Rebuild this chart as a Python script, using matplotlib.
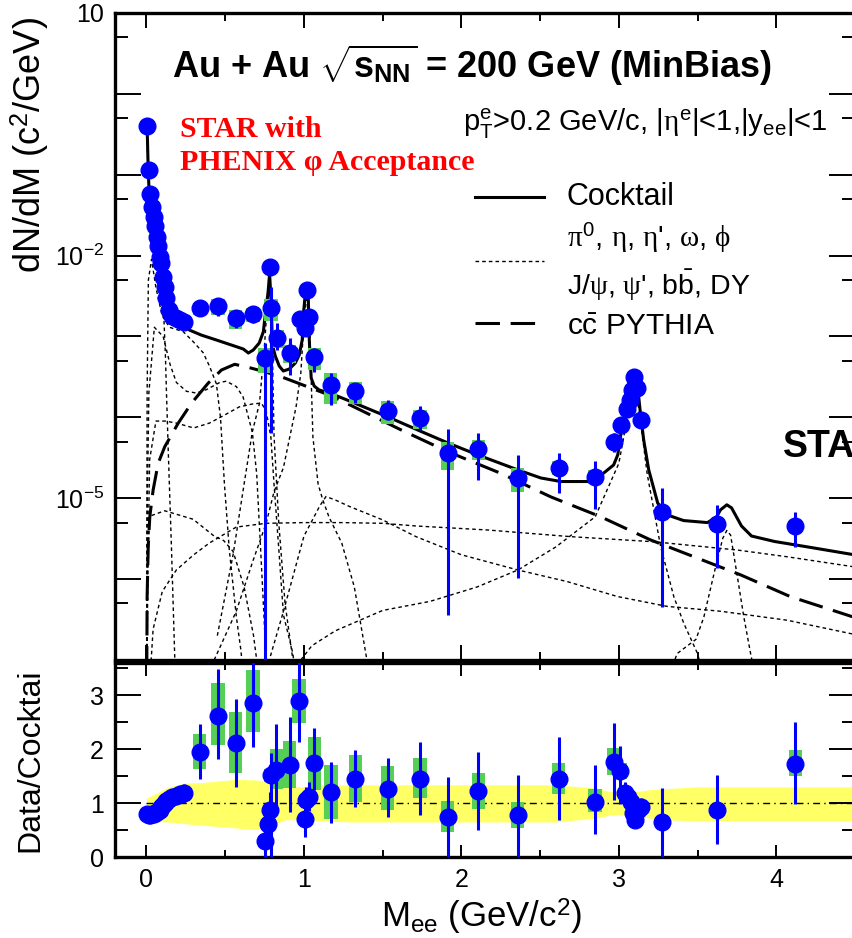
import matplotlib
matplotlib.use("Agg")
import matplotlib.pyplot as plt
from matplotlib.patches import Rectangle
from matplotlib.ticker import FixedLocator, FixedFormatter, NullFormatter

plt.rcParams.update({
    'font.family': ['Liberation Sans', 'DejaVu Sans'],
    'mathtext.fontset': 'custom',
    'mathtext.rm': 'Liberation Sans',
    'mathtext.it': 'Liberation Serif',
    'mathtext.bf': 'Liberation Sans:bold',
    'mathtext.sf': 'Liberation Sans',
})

# ---------------- measured dN/dM (upper panel) ----------------
mass = [0.005, 0.015, 0.025, 0.035, 0.045, 0.055, 0.065, 0.075, 0.085, 0.095, 0.105, 0.115, 0.125,
        0.14, 0.16, 0.19, 0.215, 0.24,
        0.338, 0.455, 0.566, 0.677, 0.75, 0.782, 0.79, 0.83, 0.909,
        0.978, 1.004, 1.019, 1.035, 1.067, 1.169, 1.327, 1.532, 1.737,
        1.913, 2.107, 2.357, 2.617, 2.849,
        2.97, 3.016, 3.05, 3.071, 3.086, 3.097, 3.118, 3.139, 3.276, 3.621, 4.122]
dndm = [0.40, 0.115, 0.057, 0.040, 0.030, 0.023, 0.017, 0.013, 0.0097, 0.0080, 0.0055, 0.0041, 0.0030,
        0.0021, 0.0018, 0.00168, 0.0016, 0.00152,
        0.00223, 0.00238, 0.00168, 0.00188, 5.4e-4, 0.0073, 0.00223, 9.7e-4, 6.3e-4,
        0.00163, 0.00126, 0.00376, 0.00173, 5.5e-4, 2.5e-4, 2.1e-4, 1.21e-4, 9.8e-5,
        3.6e-5, 4.1e-5, 1.77e-5, 2.4e-5, 1.85e-5,
        4.9e-5, 8.1e-5, 1.26e-4, 1.64e-4, 2.2e-4, 3.2e-4, 2.3e-4, 9.3e-5, 6.8e-6, 4.8e-6, 4.5e-6]
dndm_lo = [0.38, 0.108, 0.053, 0.037, 0.028, 0.021, 0.0158, 0.0121, 0.0090, 0.0074, 0.0050, 0.0037, 0.0027,
           0.0019, 0.0016, 0.00150, 0.00140, 0.00130,
           0.00179, 0.0018, 0.00126, 0.00148, 1e-9, 0.0066, 6.4e-5, 6.8e-4, 3.3e-4,
           0.00145, 0.00110, 0.0034, 0.00152, 3.6e-4, 1.42e-4, 1.51e-4, 9.3e-5, 7.0e-5,
           3.6e-7, 1.68e-5, 1.03e-6, 1.16e-5, 7.4e-6,
           3.7e-5, 6.8e-5, 1.1e-4, 1.45e-4, 1.95e-4, 2.9e-4, 2.05e-4, 7.8e-5, 4.5e-7, 1.37e-6, 2.5e-6]
dndm_hi = [0.42, 0.122, 0.061, 0.043, 0.032, 0.025, 0.0182, 0.0139, 0.0104, 0.0086, 0.0060, 0.0045, 0.0033,
           0.0023, 0.0020, 0.00186, 0.00180, 0.00175,
           0.00282, 0.0029, 0.00213, 0.00238, 8.3e-4, 0.0080, 0.00409, 0.00147, 9.6e-4,
           0.00181, 0.00142, 0.0041, 0.00194, 7.2e-4, 3.54e-4, 2.66e-4, 1.64e-4, 1.38e-4,
           7.2e-5, 6.4e-5, 3.4e-5, 3.6e-5, 2.9e-5,
           6.5e-5, 9.5e-5, 1.42e-4, 1.83e-4, 2.45e-4, 3.5e-4, 2.55e-4, 1.08e-4, 1.34e-5, 8.3e-6, 6.8e-6]
dndm_sys = [0.08, 0.08, 0.08, 0.08, 0.08, 0.08, 0.08, 0.08, 0.08, 0.08, 0.08, 0.08, 0.08,
            0.08, 0.08, 0.08, 0.08, 0.08,
            0.17, 0.23, 0.27, 0.20, 0.35, 0.10, 0.30, 0.25, 0.25,
            0.15, 0.15, 0.10, 0.15, 0.30, 0.42, 0.30, 0.32, 0.26,
            0.38, 0.27, 0.32, 0.20, 0.20,
            0.15, 0.10, 0.10, 0.10, 0.10, 0.10, 0.10, 0.10, 0.10, 0.10, 0.15]

# ---------------- cocktail ----------------
cocktail_m = [0.003, 0.011, 0.019, 0.032, 0.051, 0.070, 0.089, 0.108, 0.127, 0.159, 0.209, 0.273, 0.349,
              0.444, 0.539, 0.615, 0.647, 0.678, 0.716, 0.742, 0.758, 0.772, 0.782, 0.792, 0.800, 0.818,
              0.843, 0.869, 0.907, 0.945, 0.970, 0.989, 0.999, 1.008, 1.019, 1.028, 1.034, 1.046, 1.065,
              1.097, 1.173, 1.319, 1.535, 1.744, 1.915, 2.105, 2.359, 2.505, 2.632, 2.803, 2.904, 2.967,
              2.993, 3.012, 3.044, 3.075, 3.097, 3.123, 3.135, 3.158, 3.190, 3.247, 3.310, 3.411, 3.563,
              3.620, 3.646, 3.686, 3.716, 3.779, 3.843, 3.989, 4.205, 4.502]
cocktail_y = [0.475, 0.115, 0.0488, 0.0318, 0.0196, 0.01315, 0.00834, 0.00433, 0.00283, 0.00201, 0.0016,
              0.0012, 0.00104, 9.05e-4, 7.85e-4, 7.0e-4, 6.25e-4, 6.8e-4, 8.3e-4, 1.14e-3, 2.13e-3, 3.5e-3,
              6.0e-3, 2.5e-3, 7.85e-4, 5.74e-4, 4.32e-4, 3.74e-4, 3.96e-4, 4.7e-4, 5.9e-4, 9.05e-4, 2.13e-3,
              3.26e-3, 3.55e-3, 2.83e-3, 9.05e-4, 3.07e-4, 2.44e-4, 2.18e-4, 1.97e-4, 1.51e-4, 1.01e-4,
              6.7e-5, 4.82e-5, 3.43e-5, 2.24e-5, 1.78e-5, 1.61e-5, 1.61e-5, 2.05e-5, 2.58e-5, 3.43e-5,
              6.05e-5, 1.23e-4, 2.18e-4, 2.74e-4, 2.06e-4, 1.23e-4, 5.25e-5, 2.24e-5, 8.7e-6, 6.2e-6,
              5.3e-6, 5.0e-6, 5.86e-6, 7.2e-6, 8.3e-6, 7.6e-6, 4.54e-6, 3.41e-6, 2.92e-6, 2.49e-6, 1.99e-6]

ccbar_m = [0.0, 0.004, 0.011, 0.021, 0.042, 0.074, 0.116, 0.201, 0.285, 0.391, 0.476, 0.56, 0.645, 0.75,
           0.856, 1.173, 1.617, 1.913, 2.251, 2.568, 2.885, 3.202, 3.477, 3.773, 4.09, 4.483]
ccbar_y = [1e-8, 6.07e-7, 2.52e-6, 5.9e-6, 1.26e-5, 2.7e-5, 4.34e-5, 8.45e-5, 1.49e-4, 2.64e-4, 3.85e-4,
           4.53e-4, 4.16e-4, 3.67e-4, 3.18e-4, 1.85e-4, 7.0e-5, 3.77e-5, 2.03e-5, 1.04e-5, 5.9e-6, 3.05e-6,
           1.89e-6, 1.13e-6, 6.07e-7, 3.43e-7]

# individual cocktail sources (dotted)
pi0_dalitz_m = [0.0, 0.01, 0.02, 0.04, 0.06, 0.085, 0.1, 0.11, 0.12, 0.127, 0.138, 0.159, 0.18, 0.19]
pi0_dalitz_y = [0.45, 0.11, 0.045, 0.02, 0.011, 0.006, 0.0036, 0.0018, 6e-4, 2e-4, 4e-5, 2.3e-6, 1e-7, 3e-8]
eta_dalitz_m = [0.0, 0.004, 0.012, 0.032, 0.06, 0.1, 0.146, 0.233, 0.3, 0.36, 0.4, 0.444, 0.47, 0.495,
                0.526, 0.571, 0.6, 0.62]
eta_dalitz_y = [1e-8, 2e-4, 5e-3, 9e-3, 4e-3, 1.8e-3, 1.3e-3, 1.15e-3, 8.5e-4, 6.3e-4, 4.3e-4, 2.6e-4,
                1e-4, 1.5e-5, 2.3e-6, 3.4e-7, 1.3e-7, 5e-8]
omega_dalitz_m = [0.0, 0.006, 0.015, 0.05, 0.106, 0.15, 0.19, 0.254, 0.317, 0.38, 0.465, 0.507, 0.571,
                  0.613, 0.672, 0.70, 0.73, 0.76]
omega_dalitz_y = [1e-8, 1e-5, 2e-4, 1.3e-3, 1.0e-3, 4.5e-4, 2.7e-4, 2.1e-4, 2e-4, 2.2e-4, 2.7e-4, 2.8e-4,
                  2.4e-4, 1.8e-4, 6.6e-5, 2e-5, 1.5e-6, 1e-7]
etap_dalitz_m = [0.0, 0.008, 0.02, 0.06, 0.12, 0.19, 0.3, 0.4, 0.5, 0.59, 0.677, 0.73, 0.76, 0.79, 0.81,
                 0.84, 0.87, 0.93, 0.96]
etap_dalitz_y = [1e-8, 1e-6, 3e-5, 9e-5, 9e-5, 8.5e-5, 7.4e-5, 8.5e-5, 1.08e-4, 1.35e-4, 1.47e-4, 1.5e-4,
                 1.2e-4, 5.7e-5, 1.5e-5, 2.4e-6, 3.6e-7, 1.2e-7, 3e-8]
phi_dalitz_m = [0.0, 0.006, 0.02, 0.116, 0.296, 0.43, 0.49, 0.55, 0.62, 0.68, 0.72]
phi_dalitz_y = [1e-8, 1e-6, 6e-6, 7e-6, 5.5e-6, 3.4e-6, 3e-6, 2.2e-6, 8e-7, 2e-7, 5e-8]
omega_ee_m = [0.45, 0.55, 0.62, 0.672, 0.718, 0.75, 0.77, 0.782, 0.79, 0.80, 0.81, 0.84, 0.88, 0.93]
omega_ee_y = [2e-7, 2e-6, 1.5e-5, 6.6e-5, 1.5e-4, 8e-4, 3e-3, 5.5e-3, 3e-3, 6e-4, 6e-5, 5e-6, 5e-7, 1e-7]
phi_ee_m = [0.43, 0.57, 0.677, 0.76, 0.81, 0.87, 0.91, 0.95, 0.98, 1.0, 1.019, 1.035, 1.046, 1.057, 1.09,
            1.12, 1.16, 1.24, 1.32, 1.4]
phi_ee_y = [1e-7, 4e-7, 1.7e-6, 4.9e-6, 1.2e-5, 2.4e-5, 5.7e-5, 1.35e-4, 3.5e-4, 1.5e-3, 3.3e-3, 1.5e-3,
            3e-4, 5.7e-5, 1.5e-5, 9.5e-6, 5.8e-6, 2.8e-6, 8e-7, 1e-7]
jpsi_m = [0.98, 1.05, 1.2, 1.5, 1.8, 2.1, 2.36, 2.6, 2.85, 3.0, 3.05, 3.097, 3.13, 3.18, 3.266, 3.35, 3.414,
          3.5, 3.55]
jpsi_y = [1e-7, 1.5e-7, 2.3e-7, 4.1e-7, 5.3e-7, 8e-7, 1.3e-6, 2.5e-6, 5.9e-6, 2.7e-5, 9e-5, 2.6e-4, 1.2e-4,
          2e-5, 2.5e-6, 6e-7, 2.8e-7, 1.2e-7, 5e-8]
psi2s_m = [3.3, 3.37, 3.49, 3.54, 3.614, 3.66, 3.686, 3.71, 3.752, 3.794, 3.837, 3.9]
psi2s_y = [5e-8, 1.2e-7, 1.8e-7, 3.4e-7, 1.4e-6, 3.2e-6, 4e-6, 3.5e-6, 1.1e-6, 3.4e-7, 1.2e-7, 3e-8]
bbbar_m = [0.0, 0.02, 0.042, 0.1, 0.19, 0.3, 0.4, 0.57, 0.76, 1.0, 1.24, 1.5, 1.712, 2.167, 2.695, 3.221,
           3.752, 4.069, 4.483]
bbbar_y = [1e-8, 5e-8, 2.4e-7, 7e-7, 1.3e-6, 2e-6, 2.8e-6, 4.4e-6, 4.9e-6, 5e-6, 5e-6, 4.9e-6, 4.54e-6,
           4.05e-6, 3.35e-6, 2.9e-6, 2.29e-6, 1.89e-6, 1.43e-6]
dy_m = [0.75, 0.78, 0.87, 1.0, 1.1, 1.14, 1.2, 1.29, 1.5, 1.712, 2.0, 2.357, 2.674, 2.99, 3.307, 3.65, 4.07,
        4.483]
dy_y = [3e-8, 1e-7, 4e-7, 3.4e-6, 8e-6, 1.05e-5, 9.5e-6, 7.9e-6, 5.4e-6, 3.35e-6, 2e-6, 1.3e-6, 9.3e-7,
        6.1e-7, 4.6e-7, 4e-7, 3.1e-7, 2.1e-7]

sources = [(pi0_dalitz_m, pi0_dalitz_y), (eta_dalitz_m, eta_dalitz_y), (omega_dalitz_m, omega_dalitz_y),
           (etap_dalitz_m, etap_dalitz_y), (phi_dalitz_m, phi_dalitz_y), (omega_ee_m, omega_ee_y),
           (phi_ee_m, phi_ee_y), (jpsi_m, jpsi_y), (psi2s_m, psi2s_y), (bbbar_m, bbbar_y), (dy_m, dy_y)]

# ---------------- Data / Cocktail (lower panel) ----------------
ratio_m = [0.005, 0.015, 0.025, 0.035, 0.045, 0.055, 0.065, 0.075, 0.085, 0.095, 0.105, 0.115, 0.125,
           0.14, 0.16, 0.19, 0.215, 0.24,
           0.338, 0.455, 0.566, 0.677, 0.75, 0.77, 0.785, 0.79, 0.824, 0.909, 0.968,
           1.004, 1.012, 1.035, 1.067, 1.173, 1.327, 1.532, 1.737,
           1.913, 2.107, 2.357, 2.617, 2.849,
           2.97, 3.01, 3.04, 3.06, 3.075, 3.09, 3.10, 3.12, 3.14, 3.276, 3.621, 4.122]
ratio = [0.80, 0.78, 0.78, 0.79, 0.80, 0.82, 0.83, 0.85, 0.88, 0.92, 0.97, 1.00, 1.04,
         1.08, 1.12, 1.14, 1.17, 1.18,
         1.94, 2.62, 2.11, 2.86, 0.30, 0.62, 0.87, 1.52, 1.61, 1.71, 2.90,
         0.70, 1.06, 1.11, 1.74, 1.20, 1.45, 1.27, 1.44,
         0.75, 1.22, 0.78, 1.44, 1.02,
         1.76, 1.60, 1.18, 1.12, 1.02, 0.81, 0.69, 0.88, 0.93, 0.65, 0.87, 1.72]
ratio_lo = [0.76, 0.74, 0.74, 0.75, 0.76, 0.78, 0.79, 0.81, 0.84, 0.88, 0.92, 0.95, 0.98,
            1.01, 1.04, 1.06, 1.07, 1.01,
            1.44, 1.81, 1.30, 2.05, 0.0, 0.30, 0.55, 0.0, 0.84, 0.84, 2.14,
            0.38, 0.80, 0.85, 1.24, 0.64, 0.93, 0.75, 0.78,
            0.0, 0.50, 0.0, 0.69, 0.42,
            1.06, 0.99, 1.00, 0.95, 0.85, 0.65, 0.55, 0.75, 0.80, 0.0, 0.25, 0.98]
ratio_hi = [0.84, 0.82, 0.82, 0.83, 0.84, 0.86, 0.87, 0.89, 0.92, 0.96, 1.02, 1.05, 1.10,
            1.15, 1.20, 1.22, 1.27, 1.35,
            2.47, 3.48, 2.94, 3.70, 0.50, 0.95, 1.20, 1.93, 2.47, 2.60, 3.65,
            1.00, 1.30, 1.40, 2.39, 1.77, 1.98, 1.83, 2.14,
            1.49, 1.95, 1.52, 2.22, 1.71,
            2.49, 2.06, 1.40, 1.30, 1.20, 1.00, 0.85, 1.00, 1.10, 1.28, 1.52, 2.51]
ratio_sys_lo = [0.77, 0.75, 0.75, 0.76, 0.77, 0.79, 0.80, 0.82, 0.85, 0.89, 0.94, 0.97, 1.01,
                1.05, 1.08, 1.09, 1.11, 1.11,
                1.63, 2.08, 1.56, 2.32, 0.22, 0.55, 0.80, 1.40, 1.27, 1.28, 2.49,
                0.62, 0.98, 1.02, 1.24, 0.70, 1.02, 0.87, 1.09,
                0.47, 0.90, 0.53, 1.17, 0.84,
                1.52, 1.45, 1.08, 1.04, 0.95, 0.75, 0.64, 0.82, 0.87, 0.60, 0.80, 1.50]
ratio_sys_hi = [0.83, 0.81, 0.81, 0.82, 0.83, 0.85, 0.86, 0.88, 0.91, 0.95, 1.00, 1.03, 1.07,
                1.11, 1.16, 1.19, 1.23, 1.25,
                2.28, 3.22, 2.69, 3.47, 0.38, 0.69, 0.94, 1.64, 2.00, 2.15, 3.30,
                0.78, 1.14, 1.20, 2.22, 1.71, 1.90, 1.69, 1.84,
                1.04, 1.55, 1.02, 1.74, 1.26,
                2.02, 1.75, 1.28, 1.20, 1.09, 0.87, 0.74, 0.94, 0.99, 0.70, 0.94, 1.99]

# cocktail uncertainty band
band_m = [0.0, 0.14, 0.24, 0.35, 0.56, 0.69, 0.77, 0.88, 0.98, 1.09, 1.3, 2.0, 2.6, 2.85, 2.95, 3.1, 3.2,
          3.3, 3.5, 4.5]
band_hi = [1.09, 1.30, 1.37, 1.38, 1.44, 1.43, 1.40, 1.34, 1.30, 1.34, 1.34, 1.34, 1.34, 1.28, 1.21, 1.21,
           1.25, 1.27, 1.30, 1.30]
band_lo = [0.67, 0.65, 0.62, 0.59, 0.54, 0.51, 0.55, 0.69, 0.69, 0.67, 0.65, 0.65, 0.65, 0.72, 0.78, 0.78,
           0.72, 0.69, 0.67, 0.67]

decades = [1e-7, 1e-6, 1e-5, 1e-4, 1e-3, 1e-2, 1e-1, 1.0, 10.0]
decade_labels = ['', '', r'$\mathregular{10^{-5}}$', '', '', r'$\mathregular{10^{-2}}$', '', '', '10']
half_decades = [5e-7, 5e-6, 5e-5, 5e-4, 5e-3, 5e-2, 0.5, 5.0]

BLUE = '#0000ff'
GREEN = '#55d055'
YELLOW = '#ffff66'
BOX_W = 0.085

W, H = 852, 938
fig = plt.figure(figsize=(W / 100, H / 100), dpi=100)
ax = fig.add_axes([115 / W, (H - 660) / H, 740 / W, 647 / H])
axr = fig.add_axes([115 / W, (H - 857) / H, 740 / W, 194 / H])

# ---- upper panel ----
dotted = (0, (2.6, 2.2))
for xs, ys in sources:
    ax.plot(xs, ys, color='black', lw=1.0, ls=dotted, zorder=2)
ax.plot(ccbar_m, ccbar_y, color='black', lw=2.2, ls=(0, (8, 3.5)), zorder=2)
ax.plot(cocktail_m, cocktail_y, color='black', lw=2.2, zorder=2)

for m, y, s in zip(mass, dndm, dndm_sys):
    ax.add_patch(Rectangle((m - BOX_W / 2, y * (1 - s)), BOX_W, y * (1 + s) - y * (1 - s),
                           facecolor=GREEN, edgecolor='none', zorder=3))
ax.vlines(mass, dndm_lo, dndm_hi, color=BLUE, lw=2.2, zorder=4)
ax.plot(mass, dndm, 'o', color=BLUE, ms=12, mec=BLUE, zorder=5)

ax.set_xlim(-0.2, 4.5)
ax.set_yscale('log')
ax.set_ylim(1e-7, 10)
ax.xaxis.set_major_locator(FixedLocator([0, 1, 2, 3, 4]))
ax.xaxis.set_minor_locator(FixedLocator([0.5, 1.5, 2.5, 3.5]))
ax.xaxis.set_major_formatter(NullFormatter())
ax.yaxis.set_major_locator(FixedLocator(decades))
ax.yaxis.set_major_formatter(FixedFormatter(decade_labels))
ax.yaxis.set_minor_locator(FixedLocator(half_decades))
ax.yaxis.set_minor_formatter(NullFormatter())
ax.tick_params(axis='x', which='major', direction='in', length=11, width=1.4, top=True, bottom=True)
ax.tick_params(axis='x', which='minor', direction='in', length=5.5, width=1.4, top=True, bottom=True)
ax.tick_params(axis='y', which='major', direction='in', length=19, width=1.4, left=True, right=True,
               labelsize=18, pad=8)
ax.tick_params(axis='y', which='minor', direction='in', length=9.5, width=1.4, left=True, right=True)
for sp in ax.spines.values():
    sp.set_linewidth(2.4)

# headings and legend
ax.text(0.483, 0.9196, r"Au + Au $\sqrt{\mathbf{s}_{\mathbf{NN}}}$ = 200 GeV (MinBias)",
        transform=ax.transAxes, ha='center', va='center', fontsize=26, fontweight='bold')
ax.text(0.4703, 0.8284, r"$\mathregular{p_T^e}$>0.2 GeV/c, |$\eta^{\mathregular{e}}$|<1,|$\mathregular{y_{ee}}$|<1",
        transform=ax.transAxes, ha='left', va='center', fontsize=21)
ax.text(0.0878, 0.8192, "STAR with", transform=ax.transAxes, ha='left', va='center',
        fontsize=21.5, fontweight='bold', color='red', family='Liberation Serif')
ax.text(0.0878, 0.7697, "PHENIX \u03c6 Acceptance", transform=ax.transAxes, ha='left', va='center',
        fontsize=21.5, fontweight='bold', color='red', family='Liberation Serif')

lx0, lx1 = (475 - 115) / 740, (544 - 115) / 740
ax.plot([lx0, lx1], [0.7156, 0.7156], transform=ax.transAxes, color='black', lw=2.2, clip_on=False)
ax.plot([lx0, lx1], [0.6167, 0.6167], transform=ax.transAxes, color='black', lw=1.0, ls=dotted,
        clip_on=False)
ax.plot([lx0, lx1], [0.5209, 0.5209], transform=ax.transAxes, color='black', lw=2.2, ls=(0, (8, 3.5)),
        clip_on=False)
tx = (567 - 115) / 740
ax.text(tx, 0.7156, "Cocktail", transform=ax.transAxes, ha='left', va='center', fontsize=22)
ax.text(tx, 0.6522, r"$\pi^{\mathregular{0}}$, $\eta$, $\eta$', $\omega$, $\phi$", transform=ax.transAxes,
        ha='left', va='center', fontsize=21)
ax.text(tx, 0.5796, r"J/$\psi$, $\psi$', b$\mathregular{\bar{b}}$, DY", transform=ax.transAxes,
        ha='left', va='center', fontsize=20.5)
ax.text(tx, 0.5147, r"c$\mathregular{\bar{c}}$ PYTHIA", transform=ax.transAxes, ha='left', va='center',
        fontsize=21.5)

fig.text(783 / W, 1 - 447 / H, "STAR", ha='left', va='center', fontsize=27, fontweight='bold')

# ---- lower panel ----
axr.fill_between(band_m, band_lo, band_hi, color=YELLOW, lw=0, zorder=1)
axr.plot([0, 4.5], [1, 1], color='black', lw=1.0, ls=(0, (5, 3, 1, 3)), zorder=2)
for m, lo, hi in zip(ratio_m, ratio_sys_lo, ratio_sys_hi):
    axr.add_patch(Rectangle((m - BOX_W / 2, lo), BOX_W, hi - lo, facecolor=GREEN, edgecolor='none',
                            zorder=3))
axr.vlines(ratio_m, ratio_lo, ratio_hi, color=BLUE, lw=2.2, zorder=4)
axr.plot(ratio_m, ratio, 'o', color=BLUE, ms=12, mec=BLUE, zorder=5)

axr.set_xlim(-0.2, 4.5)
axr.set_ylim(0, 3.6)
axr.xaxis.set_major_locator(FixedLocator([0, 1, 2, 3, 4]))
axr.xaxis.set_minor_locator(FixedLocator([0.5, 1.5, 2.5, 3.5]))
axr.yaxis.set_major_locator(FixedLocator([0, 1, 2, 3]))
axr.yaxis.set_minor_locator(FixedLocator([0.5, 1.5, 2.5, 3.5]))
axr.tick_params(axis='x', which='major', direction='in', length=9, width=1.4, top=True, bottom=True,
                labelsize=18, pad=8)
axr.tick_params(axis='x', which='minor', direction='in', length=5, width=1.4, top=True, bottom=True)
axr.tick_params(axis='y', which='major', direction='in', length=19, width=1.4, left=True, right=True,
                labelsize=18, pad=8)
axr.tick_params(axis='y', which='minor', direction='in', length=9.5, width=1.4, left=True, right=True)
for sp in axr.spines.values():
    sp.set_linewidth(2.4)

# axis titles
fig.text(30 / W, 1 - 145 / H, r"dN/dM (c$^{\mathregular{2}}$/GeV)", rotation=90, ha='center', va='center',
         fontsize=26)
fig.text(30 / W, 1 - 760 / H, "Data/Cocktai", rotation=90, ha='center', va='center', fontsize=23)
fig.text(482 / W, 1 - 917 / H, r"M$_{\mathregular{ee}}$ (GeV/c$^{\mathregular{2}}$)", ha='center',
         va='center', fontsize=25)

fig.savefig('out.png', dpi=100)
